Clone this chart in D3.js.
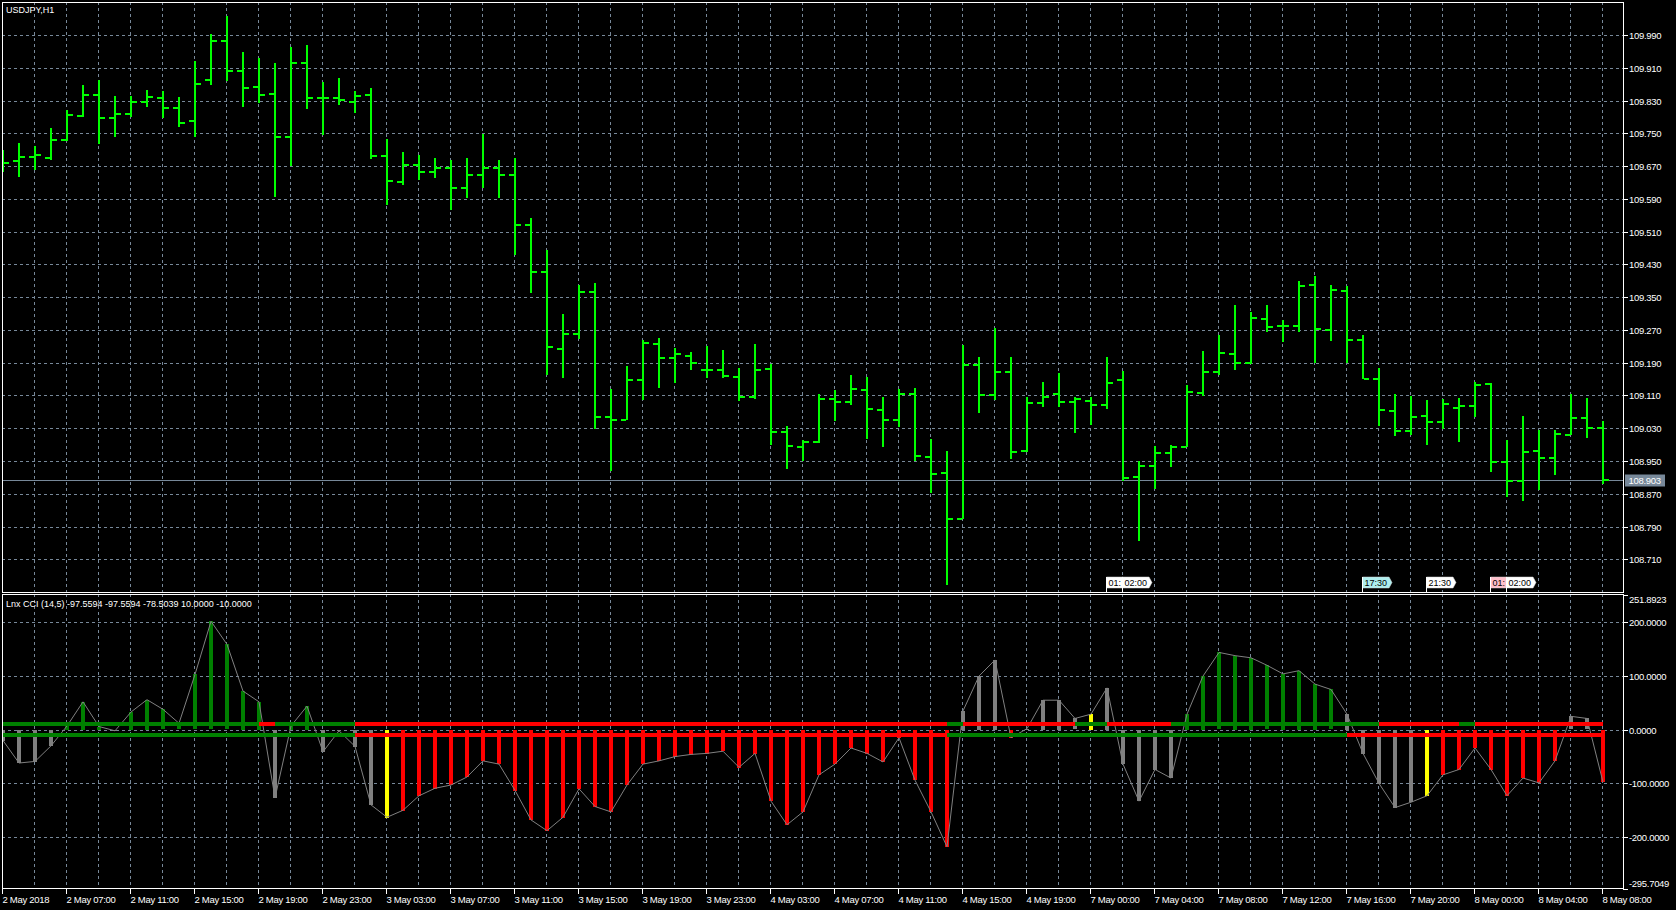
<!DOCTYPE html>
<html><head><meta charset="utf-8">
<script src="https://cdn.jsdelivr.net/npm/d3@7"></script>
<style>
html,body{margin:0;padding:0;background:#000;overflow:hidden}
svg{display:block}
text{font-family:"Liberation Sans",Arial,sans-serif;}
</style></head><body>
<svg id="c" width="1676" height="910"></svg>
<script>
const symbolTitle = "USDJPY,H1";
const indicatorTitle = "Lnx CCI (14,5) -97.5594 -97.5594 -78.5039 10.0000 -10.0000";

const openP = [109.690,109.683,109.693,109.690,109.734,109.793,109.844,109.788,109.798,109.827,
109.837,109.813,109.781,109.879,109.976,109.903,109.864,109.847,109.742,109.922,
109.837,109.837,109.827,109.844,109.695,109.632,109.673,109.656,109.665,109.617,
109.648,109.665,109.648,109.526,109.411,109.223,109.259,109.363,109.057,109.051,
109.148,109.235,109.202,109.207,109.172,109.173,109.156,109.105,109.175,109.021,
108.985,108.996,109.101,109.095,109.123,109.075,109.051,109.113,108.959,108.921,
108.808,109.185,109.111,109.168,108.974,109.092,109.113,109.095,109.097,109.087,
109.148,108.912,108.938,108.970,108.985,109.117,109.168,109.212,109.188,109.297,
109.280,109.280,109.380,109.271,109.365,109.246,109.149,109.073,109.024,109.059,
109.046,109.080,109.085,109.139,108.948,108.902,108.975,108.958,109.014,109.054,109.030];
const highP = [109.709,109.726,109.719,109.763,109.807,109.868,109.880,109.841,109.841,109.856,
109.853,109.839,109.927,109.993,110.037,109.949,109.935,109.922,109.961,109.966,
109.876,109.885,109.854,109.861,109.736,109.704,109.697,109.690,109.685,109.690,
109.748,109.685,109.690,109.543,109.465,109.309,109.380,109.385,109.125,109.181,
109.245,109.250,109.225,109.215,109.231,109.220,109.176,109.235,109.187,109.035,
109.002,109.113,109.123,109.159,109.154,109.106,109.125,109.128,109.003,108.974,
109.233,109.203,109.274,109.203,109.106,109.142,109.164,109.107,109.106,109.203,
109.170,108.950,108.987,108.989,109.136,109.219,109.258,109.331,109.314,109.331,
109.293,109.390,109.402,109.380,109.377,109.258,109.178,109.114,109.109,109.099,
109.101,109.104,109.143,109.140,109.001,109.060,109.026,109.026,109.113,109.104,109.047];
const lowP = [109.656,109.644,109.660,109.685,109.732,109.791,109.724,109.742,109.789,109.814,
109.787,109.766,109.742,109.869,109.878,109.815,109.825,109.594,109.670,109.810,
109.746,109.820,109.800,109.688,109.575,109.624,109.636,109.641,109.563,109.592,
109.617,109.592,109.453,109.360,109.160,109.153,109.247,109.027,108.926,109.050,
109.099,109.127,109.140,109.171,109.153,109.153,109.096,109.101,108.990,108.931,
108.949,108.995,109.048,109.087,109.004,108.983,109.033,108.951,108.873,108.647,
108.808,109.066,109.099,108.956,108.971,109.083,109.083,109.019,109.039,109.078,
108.901,108.755,108.882,108.936,108.983,109.109,109.160,109.171,109.186,109.266,
109.241,109.266,109.188,109.244,109.188,109.150,109.036,109.012,109.014,108.989,
109.028,108.997,109.058,108.924,108.863,108.853,108.878,108.916,109.014,109.005,108.894];
const closeP = [109.678,109.693,109.698,109.734,109.795,109.844,109.788,109.798,109.827,109.839,
109.813,109.776,109.871,109.976,109.903,109.861,109.844,109.742,109.922,109.837,
109.837,109.832,109.842,109.695,109.634,109.673,109.656,109.665,109.617,109.648,
109.665,109.648,109.526,109.411,109.228,109.259,109.363,109.057,109.051,109.148,
109.239,109.202,109.211,109.190,109.171,109.157,109.107,109.172,109.021,108.987,
108.996,109.101,109.094,109.126,109.077,109.051,109.113,108.961,108.919,108.808,
109.185,109.111,109.168,108.973,109.092,109.107,109.095,109.101,109.087,109.141,
108.909,108.938,108.970,108.983,109.119,109.167,109.214,109.190,109.300,109.278,
109.280,109.378,109.273,109.368,109.246,109.151,109.075,109.022,109.058,109.046,
109.090,109.085,109.136,108.947,108.900,108.973,108.958,109.015,109.054,109.030,108.903];

const priceTicks = [109.990,109.910,109.830,109.750,109.670,109.590,109.510,109.430,109.350,
109.270,109.190,109.110,109.030,108.950,108.870,108.790,108.710];
const lastPrice = 108.903;

const timeTickIndex = [0,4,8,12,16,20,24,28,32,36,40,44,48,52,56,60,64,68,72,76,80,84,88,92,96,100];
const timeTickLabels = ["2 May 2018","2 May 07:00","2 May 11:00","2 May 15:00","2 May 19:00","2 May 23:00",
"3 May 03:00","3 May 07:00","3 May 11:00","3 May 15:00","3 May 19:00","3 May 23:00",
"4 May 03:00","4 May 07:00","4 May 11:00","4 May 15:00","4 May 19:00",
"7 May 00:00","7 May 04:00","7 May 08:00","7 May 12:00","7 May 16:00","7 May 20:00",
"8 May 00:00","8 May 04:00","8 May 08:00"];

const cciValues = [-20,-62,-59,-30,7,52,6,-2,33,56,
38,12,103,202,159,72,52,-127,7,44,
-41,-2,-31,-140,-163,-150,-123,-109,-103,-88,
-58,-64,-113,-168,-188,-163,-110,-143,-153,-103,
-64,-58,-50,-46,-44,-40,-70,-44,-133,-177,
-153,-84,-64,-34,-44,-60,-15,-94,-153,-218,
35,100,130,-15,2,55,55,21,29,78,
-64,-133,-74,-90,29,100,144,138,134,120,
104,110,85,75,29,-44,-100,-145,-135,-123,
-84,-74,-34,-74,-123,-90,-99,-58,25,21,-97.5594];
// U = rising (green), D = falling (red), N = neutral (gray), Y = signal (yellow)
const histState = ["N","N","N","N","U","U","U","N","U","U",
"U","U","U","U","U","U","U","N","U","U",
"N","N","N","N","Y","D","D","D","D","D",
"D","D","D","D","D","D","D","D","D","D",
"D","D","D","D","D","D","D","D","D","D",
"D","D","D","D","D","D","D","D","D","D",
"N","N","N","D","N","N","N","N","Y","N",
"N","N","N","N","U","U","U","U","U","U",
"U","U","U","U","N","N","N","N","N","Y",
"D","D","D","D","D","D","D","D","N","N","D"];
const levelValues = [10, -10];
// colour of each level segment ending at bar i (G green, R red)
const upperLevelState = ["G","G","G","G","G","G","G","G","G","G",
"G","G","G","G","G","G","G","R","G","G",
"G","G","G","R","R","R","R","R","R","R",
"R","R","R","R","R","R","R","R","R","R",
"R","R","R","R","R","R","R","R","R","R",
"R","R","R","R","R","R","R","R","R","R",
"G","R","R","R","R","R","R","R","G","G",
"R","R","R","R","G","G","G","G","G","G",
"G","G","G","G","G","G","G","R","R","R",
"R","R","G","R","R","R","R","R","R","R","R"];
const lowerLevelState = ["G","G","G","G","G","G","G","G","G","G",
"G","G","G","G","G","G","G","G","G","G",
"G","G","G","R","R","R","R","R","R","R",
"R","R","R","R","R","R","R","R","R","R",
"R","R","R","R","R","R","R","R","R","R",
"R","R","R","R","R","R","R","R","R","R",
"G","G","G","G","G","G","G","G","G","G",
"G","G","G","G","G","G","G","G","G","G",
"G","G","G","G","G","R","R","R","R","R",
"R","R","R","R","R","R","R","R","R","R","R"];
const cciTicks = [251.8923, 200, 100, 0, -100, -200, -295.7049];
const cciTickLabels = ["251.8923","200.0000","100.0000","0.0000","-100.0000","-200.0000","-295.7049"];
const cciGrid = [200, 100, 0, -100, -200];

const eventIndex = [69, 70, 85, 89, 93, 94];
const eventLabels = ["01:", "02:00", "17:30", "21:30", "01:", "02:00"];
const eventFill = ["#ffffff", "#ffffff", "#afeeee", "#ffffff", "#ffc0cb", "#ffffff"];

// ---------- layout ----------
const L = 2, R = 1623, mainTop = 2, mainBot = 592, indTop = 594, indBot = 888;
const svg = d3.select("#c");
svg.append("rect").attr("width",1676).attr("height",910).attr("fill","#000");

const n = closeP.length;
const x = d3.scaleLinear().domain([0, n - 1]).range([2, 1602]);
const yP = d3.scaleLinear().domain([108.6301, 110.0706]).range([mainBot, mainTop]);
const yC = d3.scaleLinear().domain([-295.7049, 251.8923]).range([indBot + 0.5, indTop + 0.5]);
const gridCol = "#778899";

const defs = svg.append("defs");
defs.append("clipPath").attr("id","cm").append("rect").attr("x",L+1).attr("y",mainTop+1).attr("width",R-L-1).attr("height",mainBot-mainTop-1);
defs.append("clipPath").attr("id","ci").append("rect").attr("x",L+1).attr("y",indTop+1).attr("width",R-L-1).attr("height",indBot-indTop-1);

const gm = svg.append("g").attr("clip-path","url(#cm)");
const gi = svg.append("g").attr("clip-path","url(#ci)");

const vGrid = d3.range(2, n, 2);
[[gm, mainTop, mainBot], [gi, indTop, indBot]].forEach(([g, t, b]) => {
  g.append("g").selectAll("line").data(vGrid).join("line")
    .attr("x1", d => Math.round(x(d)) + 0.5).attr("x2", d => Math.round(x(d)) + 0.5)
    .attr("y1", t).attr("y2", b)
    .attr("stroke", gridCol).attr("stroke-dasharray","3,3").attr("stroke-width",1);
});
gm.append("g").selectAll("line").data(priceTicks).join("line")
  .attr("x1", L).attr("x2", R)
  .attr("y1", d => Math.round(yP(d)) + 0.5).attr("y2", d => Math.round(yP(d)) + 0.5)
  .attr("stroke", gridCol).attr("stroke-dasharray","3,3");
gi.append("g").selectAll("line").data(cciGrid).join("line")
  .attr("x1", L).attr("x2", R)
  .attr("y1", d => Math.round(yC(d)) + 0.5).attr("y2", d => Math.round(yC(d)) + 0.5)
  .attr("stroke", gridCol).attr("stroke-dasharray","3,3");

gm.append("line").attr("x1",L).attr("x2",R)
  .attr("y1", Math.round(yP(lastPrice)) + 0.5).attr("y2", Math.round(yP(lastPrice)) + 0.5)
  .attr("stroke", gridCol).attr("stroke-width",1);

const barG = gm.append("g").attr("fill","#00ff00").attr("shape-rendering","crispEdges");
const idx = d3.range(n);
barG.selectAll("rect.v").data(idx).join("rect").attr("class","v")
  .attr("x", i => Math.round(x(i))).attr("width", 2)
  .attr("y", i => Math.round(yP(highP[i]))).attr("height", i => Math.max(2, Math.round(yP(lowP[i])) - Math.round(yP(highP[i]))));
barG.selectAll("rect.o").data(idx).join("rect").attr("class","o")
  .attr("x", i => Math.round(x(i)) - 5).attr("width", 5)
  .attr("y", i => Math.round(yP(openP[i])) - 1).attr("height", 2);
barG.selectAll("rect.c").data(idx).join("rect").attr("class","c")
  .attr("x", i => Math.round(x(i)) + 2).attr("width", 5)
  .attr("y", i => Math.round(yP(closeP[i])) - 1).attr("height", 2);

const fg = gm.append("g");
eventIndex.forEach((k, j) => {
  const x0 = Math.round(x(k)) + 0.5;
  const t = fg.append("text").attr("x", x0 + 2).attr("y", 586).attr("font-size", 9).attr("fill","#000").text(eventLabels[j]);
  const w = t.node().getComputedTextLength() + 4;
  fg.insert("path", () => t.node())
    .attr("d", `M${x0},577 H${x0 + w} L${x0 + w + 3},582.5 L${x0 + w},588 H${x0} Z`)
    .attr("fill", eventFill[j]).attr("stroke", "#d0d0d0").attr("stroke-width", 0.5);
  fg.append("line").attr("x1", x0).attr("x2", x0).attr("y1", 577).attr("y2", 592).attr("stroke","#fff");
});

const stateCol = {U:"#008000", D:"#ff0000", N:"#808080", Y:"#ffff00"};
gi.append("g").attr("shape-rendering","crispEdges").selectAll("rect").data(idx).join("rect")
  .attr("x", i => Math.round(x(i)) - 1).attr("width", 4)
  .attr("y", i => Math.round(yC(Math.max(0, cciValues[i]))))
  .attr("height", i => Math.max(1, Math.round(Math.abs(yC(cciValues[i]) - yC(0)))))
  .attr("fill", i => stateCol[histState[i]]);

gi.append("path").datum(idx)
  .attr("d", d3.line().x(i => Math.round(x(i)) + 1).y(i => yC(cciValues[i])))
  .attr("fill","none").attr("stroke","#808080").attr("stroke-width",1);

const lvlCol = {G:"#008000", R:"#ff0000"};
[[levelValues[0], upperLevelState], [levelValues[1], lowerLevelState]].forEach(([lv, st]) => {
  const yy = Math.round(yC(lv));
  gi.append("g").selectAll("line").data(d3.range(1, n)).join("line")
    .attr("x1", i => Math.round(x(i - 1)) + 1).attr("x2", i => Math.round(x(i)) + 1)
    .attr("y1", yy).attr("y2", yy)
    .attr("stroke", i => lvlCol[st[i]]).attr("stroke-width", 4);
});

svg.append("rect").attr("x", L + 0.5).attr("y", mainTop + 0.5).attr("width", R - L).attr("height", mainBot - mainTop)
  .attr("fill","none").attr("stroke","#fff");
svg.append("rect").attr("x", L + 0.5).attr("y", indTop + 0.5).attr("width", R - L).attr("height", indBot - indTop)
  .attr("fill","none").attr("stroke","#fff");

svg.append("text").attr("x", 6).attr("y", 12.5).attr("font-size", 9).attr("fill","#fff").text(symbolTitle);
svg.append("text").attr("x", 6).attr("y", 606.5).attr("font-size", 9).attr("fill","#fff").text(indicatorTitle);

const pa = svg.append("g");
priceTicks.forEach(p => {
  const yy = Math.round(yP(p)) + 0.5;
  pa.append("line").attr("x1", R).attr("x2", R + 5).attr("y1", yy).attr("y2", yy).attr("stroke","#fff");
  pa.append("text").attr("x", 1629).attr("y", yy + 3.5).attr("font-size", 9.5).attr("letter-spacing", -0.3)
    .attr("fill","#fff").text(p.toFixed(3));
});
{
  const yy = Math.round(yP(lastPrice)) + 0.5;
  pa.append("rect").attr("x", 1625).attr("y", yy - 6).attr("width", 40).attr("height", 12).attr("fill", gridCol);
  pa.append("text").attr("x", 1628.5).attr("y", yy + 3.5).attr("font-size", 9.5).attr("letter-spacing", -0.3)
    .attr("fill","#fff").text(lastPrice.toFixed(3));
}
cciTicks.forEach((v, j) => {
  const yy = Math.round(yC(v)) + 0.5;
  pa.append("line").attr("x1", R).attr("x2", R + 5).attr("y1", yy).attr("y2", yy).attr("stroke","#fff");
  const ty = Math.min(Math.max(yy, 599.5), 883.5);
  pa.append("text").attr("x", 1629).attr("y", ty + 3.5).attr("font-size", 9.5).attr("letter-spacing", -0.3)
    .attr("fill","#fff").text(cciTickLabels[j]);
});

const ta = svg.append("g");
timeTickIndex.forEach((k, j) => {
  const xx = Math.round(x(k)) + 0.5;
  ta.append("line").attr("x1", xx).attr("x2", xx).attr("y1", indBot).attr("y2", indBot + 6).attr("stroke","#fff");
  ta.append("text").attr("x", xx).attr("y", 902.5).attr("font-size", 9.5).attr("letter-spacing", -0.3)
    .attr("fill","#fff").text(timeTickLabels[j]);
});
</script>
</body></html>
